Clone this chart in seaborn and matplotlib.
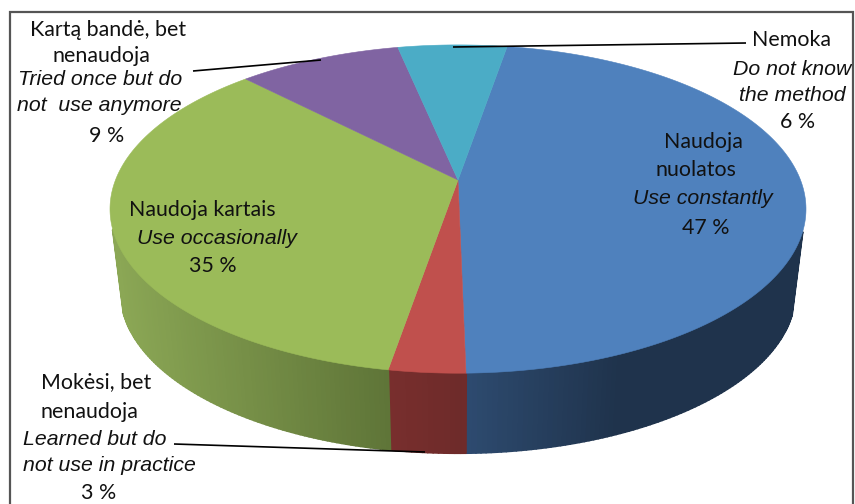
import numpy as np
import matplotlib
matplotlib.use("Agg")
import matplotlib.pyplot as plt
from matplotlib.collections import PolyCollection
from matplotlib.colors import to_rgb
import seaborn as sns

# ---- data ----
categories = ["Naudoja nuolatos", "Mokėsi, bet nenaudoja", "Naudoja kartais",
              "Kartą bandė, bet nenaudoja", "Nemoka"]
values = [47, 3, 35, 9, 6]
top_colors = ["#4f81bd", "#c0504d", "#9bbb59", "#8064a2", "#4bacc6"]
# wall shade next to the front of the pie / further from it, and the run in px
wall_near = ["#2e4b70", "#6e2b2a", "#5f7538", "#4c3b62", "#2c6676"]
wall_far = ["#1f334c", "#7a2f2e", "#8ba755", "#4c3b62", "#2c6676"]
wall_span = [150, 78, 265, 100, 100]

# ---- layout ----
START_DEG = 9.7
CX, CY = 458.0, 180.0
K = 0.177
A_TOP, B_TOP = 342.5, 159.0
A_LOW, B_LOW, CY_LOW = 332.0, 156.0, 263.5

sans = "Lato"
ital = "Liberation Sans"
labels = [
    (108, 29, "Kartą bandė, bet", False), (101, 55, "nenaudoja", False),
    (100, 79, "Tried once but do", True), (99, 105, "not  use anymore", True),
    (107, 134, "9 %", False),
    (791, 39, "Nemoka", False), (792, 69, "Do not know", True),
    (792, 95, "the method", True), (798, 120, "6 %", False),
    (703, 141, "Naudoja", False), (696, 169, "nuolatos", False),
    (703, 198, "Use constantly", True), (706, 226, "47 %", False),
    (202, 209, "Naudoja kartais", False), (217, 238, "Use occasionally", True),
    (213, 265, "35 %", False),
    (96, 381, "Mokėsi, bet", False), (89, 410, "nenaudoja", False),
    (95, 439, "Learned but do", True), (109, 465, "not use in practice", True),
    (99, 491.5, "3 %", False),
]
leaders = [((193, 71), (321, 60)), ((453, 47), (746, 43)), ((174, 444), (425, 452))]


def project(theta, a, b, cy):
    """theta: radians clockwise from the top of the disc."""
    u, v = np.sin(theta), np.cos(theta)
    d = 1 + K * v
    return CX + a * u / d, cy - b * v / d


sns.set_theme(style="white")
fig, ax = plt.subplots(figsize=(8.55, 5.04), dpi=100)
fig.subplots_adjust(0, 0, 1, 1)
ax.set_xlim(0, 855)
ax.set_ylim(504, 0)
ax.axis("off")

fractions = np.array(values, dtype=float) / sum(values)
edges = np.radians(START_DEG) + np.concatenate([[0], np.cumsum(fractions)]) * 2 * np.pi

# side wall: overlapping strips so that no seams show; the back half stays hidden
for i in range(len(values)):
    th = np.linspace(edges[i], edges[i + 1], max(int(fractions[i] * 500), 4))
    xt, yt = project(th, A_TOP, B_TOP, CY)
    xl, yl = project(th, A_LOW, B_LOW, CY_LOW)
    anchor = th[np.argmin(np.abs(th - np.pi))]
    x_anchor = project(np.array([anchor]), A_LOW, B_LOW, CY_LOW)[0][0]
    c0, c1 = np.array(to_rgb(wall_near[i])), np.array(to_rgb(wall_far[i]))
    polys, cols = [], []
    for j in range(len(th) - 1):
        if np.cos(th[j]) > -0.3:
            continue
        polys.append([(xt[j], yt[j]), (xt[j + 1], yt[j + 1]), (xl[j + 1], yl[j + 1]), (xl[j], yl[j])])
        t = np.clip(abs(xl[j] - x_anchor) / wall_span[i], 0, 1)
        cols.append(tuple(c0 + (c1 - c0) * t))
    if polys:
        ax.add_collection(PolyCollection(polys, facecolors=cols, edgecolors=cols, linewidths=1.5, zorder=2))

# top face
for i in range(len(values)):
    th = np.linspace(edges[i], edges[i + 1], 200)
    x, y = project(th, A_TOP, B_TOP, CY)
    ax.fill(np.r_[CX, x], np.r_[CY, y], color=top_colors[i], lw=0.4, zorder=3)

# leader lines
for p, q in leaders:
    ax.plot([p[0], q[0]], [p[1], q[1]], color="black", lw=1.2, zorder=4, solid_capstyle="butt")

# labels
for x, y, s, is_it in labels:
    ax.text(x, y + (0.5 if is_it else 1.5), s, ha="center", va="center", zorder=5, color="#111111",
            family=ital if is_it else sans, style="italic" if is_it else "normal",
            fontsize=15.3 if is_it else 15.4)

# frame, cut by the lower edge of the picture
ax.plot([10, 10, 853, 853], [506, 12, 12, 506], color="#555555", lw=1.6, zorder=6,
        solid_joinstyle="miter")

fig.savefig("out.png", dpi=100)
